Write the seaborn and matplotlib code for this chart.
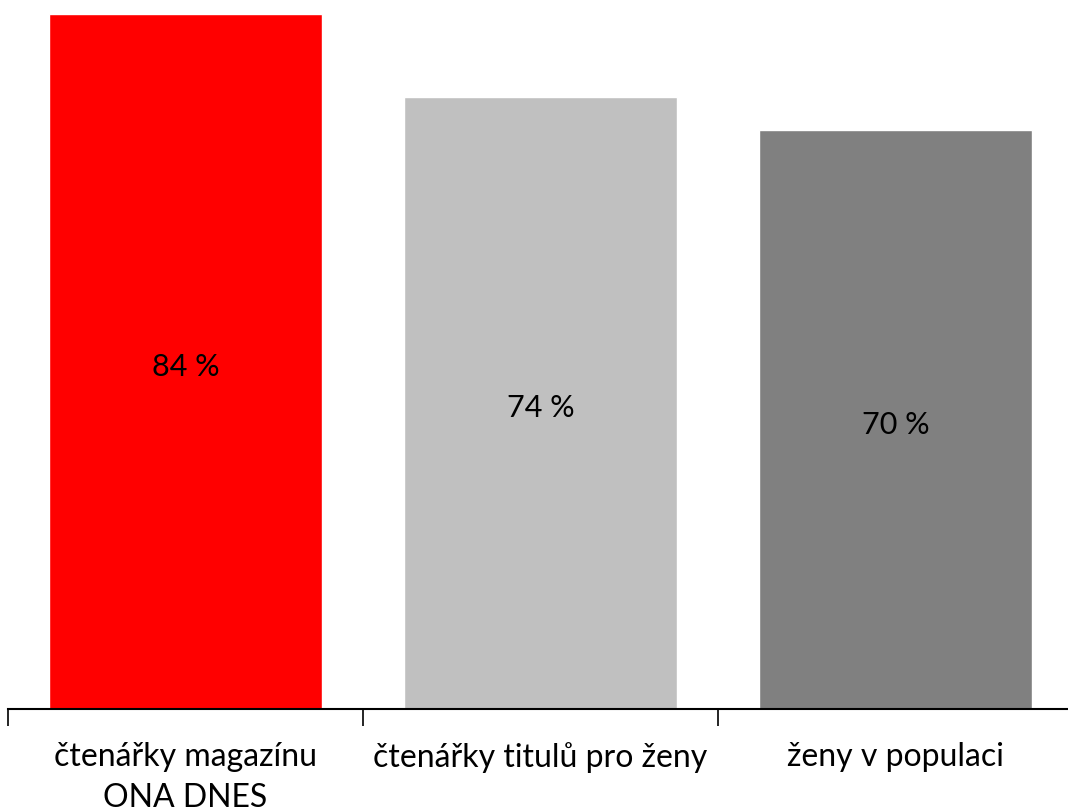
import pandas as pd
import matplotlib.pyplot as plt
import seaborn as sns

# data
kategorie = ["čtenářky magazínu\nONA DNES", "čtenářky titulů pro ženy", "ženy v populaci"]
hodnoty = [84, 74, 70]
barvy = ["#FF0000", "#C0C0C0", "#808080"]

df = pd.DataFrame({"kategorie": kategorie, "hodnota": hodnoty})

sns.set_theme(style="white")
plt.rcParams['font.family'] = ['Lato', 'DejaVu Sans']

fig = plt.figure(figsize=(10.68, 8.11), dpi=100)
# axes spans a bit past the right edge, like the original
ax = fig.add_axes([8 / 1068, (811 - 709) / 811, 1065 / 1068, 709 / 811])

sns.barplot(data=df, x="kategorie", y="hodnota", hue="kategorie", palette=barvy,
            width=0.77, legend=False, ax=ax, saturation=1)

for cont in ax.containers:
    popisky = ax.bar_label(cont, labels=[f"{v:.0f} %" for v in cont.datavalues],
                           label_type='center', fontsize=22, color='black')
    for p in popisky:
        p.xyann = (0, -4)

ax.set_xlim(-0.5, 2.5)
ax.set_ylim(0, 85.7)
ax.set_xlabel("")
ax.set_ylabel("")
ax.set_yticks([])

# category boundaries as ticks
ax.set_xticks([-0.5, 0.5, 1.5, 2.5], minor=True)
ax.tick_params(axis='x', which='minor', length=12, width=1.2, color='black', bottom=True)
ax.tick_params(axis='x', which='major', length=0, pad=24, labelsize=23, labelcolor='black')
for t in ax.get_xticklabels():
    t.set_linespacing(1.45)

for s in ['top', 'right', 'left']:
    ax.spines[s].set_visible(False)
ax.spines['bottom'].set_color('black')
ax.spines['bottom'].set_linewidth(1.5)

fig.savefig("out.png", dpi=100)
